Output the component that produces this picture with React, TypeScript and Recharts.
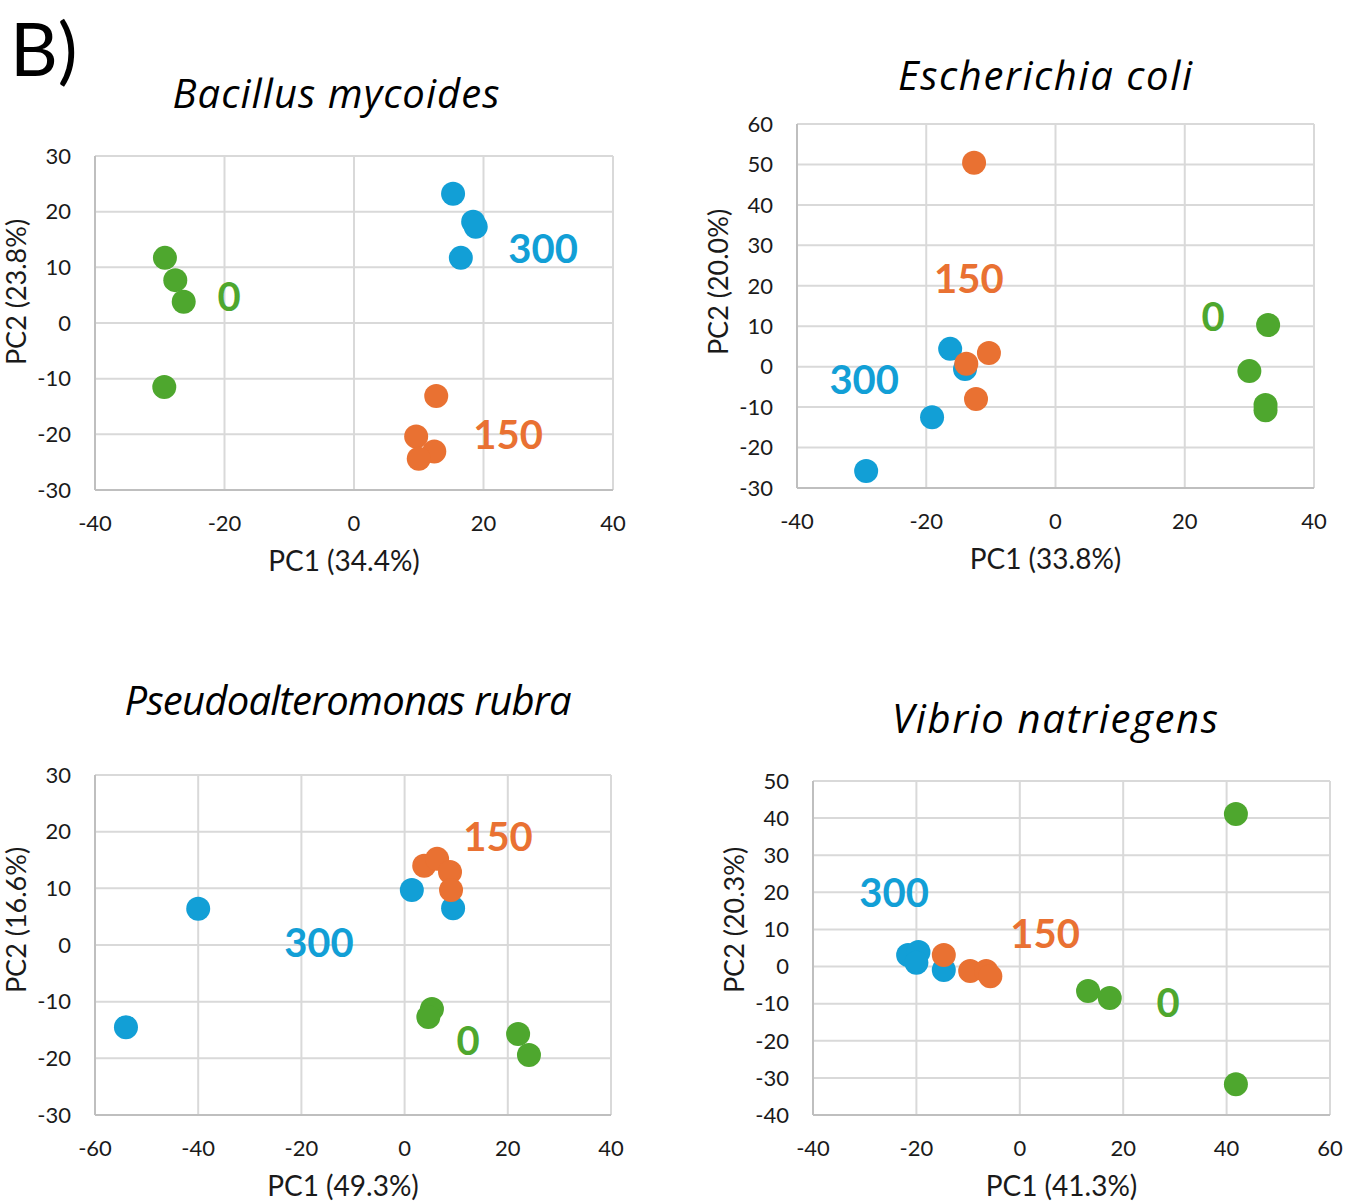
import { CartesianGrid, Scatter, ScatterChart, XAxis, YAxis } from "recharts";

// PCA scores (PC1, PC2) per dose group, one set of arrays per organism
const bacillusDose0 = [
  { pc1: -29.2, pc2: 11.7 },
  { pc1: -27.6, pc2: 7.7 },
  { pc1: -26.3, pc2: 3.8 },
  { pc1: -29.3, pc2: -11.5 },
];
const bacillusDose150 = [
  { pc1: 12.7, pc2: -13.1 },
  { pc1: 9.6, pc2: -20.4 },
  { pc1: 12.4, pc2: -23.1 },
  { pc1: 10.0, pc2: -24.4 },
];
const bacillusDose300 = [
  { pc1: 15.3, pc2: 23.2 },
  { pc1: 18.4, pc2: 18.2 },
  { pc1: 18.8, pc2: 17.3 },
  { pc1: 16.5, pc2: 11.7 },
];
const bacillusTags = [
  { pc1: -19.3, pc2: 4.7, dose: "0" },
  { pc1: 29.2, pc2: 13.3, dose: "300" },
  { pc1: 23.8, pc2: -20.1, dose: "150" },
];

const coliDose0 = [
  { pc1: 32.9, pc2: 10.3 },
  { pc1: 30.0, pc2: -1.1 },
  { pc1: 32.5, pc2: -9.5 },
  { pc1: 32.5, pc2: -10.8 },
];
const coliDose150 = [
  { pc1: -12.6, pc2: 50.4 },
  { pc1: -13.8, pc2: 0.7 },
  { pc1: -10.3, pc2: 3.4 },
  { pc1: -12.3, pc2: -8.0 },
];
const coliDose300 = [
  { pc1: -29.3, pc2: -25.8 },
  { pc1: -19.1, pc2: -12.5 },
  { pc1: -16.3, pc2: 4.4 },
  { pc1: -14.0, pc2: -0.6 },
];
const coliTags = [
  { pc1: -13.4, pc2: 21.7, dose: "150" },
  { pc1: 24.4, pc2: 12.5, dose: "0" },
  { pc1: -29.6, pc2: -3.3, dose: "300" },
];

const rubraDose0 = [
  { pc1: 5.3, pc2: -11.3 },
  { pc1: 4.6, pc2: -12.7 },
  { pc1: 22.0, pc2: -15.7 },
  { pc1: 24.1, pc2: -19.4 },
];
const rubraDose150 = [
  { pc1: 3.8, pc2: 14.0 },
  { pc1: 6.3, pc2: 15.2 },
  { pc1: 8.8, pc2: 12.9 },
  { pc1: 9.0, pc2: 9.7 },
];
const rubraDose300 = [
  { pc1: -54.0, pc2: -14.5 },
  { pc1: -40.0, pc2: 6.4 },
  { pc1: 1.4, pc2: 9.7 },
  { pc1: 9.4, pc2: 6.5 },
];
const rubraTags = [
  { pc1: 18.1, pc2: 19.1, dose: "150" },
  { pc1: -16.6, pc2: 0.4, dose: "300" },
  { pc1: 12.3, pc2: -16.8, dose: "0" },
];

const vibrioDose0 = [
  { pc1: 41.8, pc2: 41.1 },
  { pc1: 41.8, pc2: -31.7 },
  { pc1: 13.2, pc2: -6.6 },
  { pc1: 17.4, pc2: -8.5 },
];
const vibrioDose150 = [
  { pc1: -14.7, pc2: 3.1 },
  { pc1: -9.6, pc2: -1.2 },
  { pc1: -6.5, pc2: -1.2 },
  { pc1: -5.7, pc2: -2.6 },
];
const vibrioDose300 = [
  { pc1: -21.6, pc2: 3.1 },
  { pc1: -19.6, pc2: 3.9 },
  { pc1: -20.0, pc2: 1.0 },
  { pc1: -14.7, pc2: -0.9 },
];
const vibrioTags = [
  { pc1: -24.3, pc2: 19.8, dose: "300" },
  { pc1: 4.9, pc2: 9.0, dose: "150" },
  { pc1: 28.7, pc2: -9.6, dose: "0" },
];

const ticks40to40 = [-40, -20, 0, 20, 40];
const ticks60to40 = [-60, -40, -20, 0, 20, 40];
const ticks40to60 = [-40, -20, 0, 20, 40, 60];
const ticks30to30 = [-30, -20, -10, 0, 10, 20, 30];
const ticks30to60 = [-30, -20, -10, 0, 10, 20, 30, 40, 50, 60];
const ticks40to50 = [-40, -30, -20, -10, 0, 10, 20, 30, 40, 50];

const FONT = "Lato, 'Open Sans', sans-serif";
const TITLE_FONT = "'Open Sans', Lato, sans-serif";
const DOSE_COLORS: Record<string, string> = {
  "0": "#4EA72E",
  "150": "#E97132",
  "300": "#129FD6",
};
const Y_W = 60;
const X_H = 40;

type Pt = { pc1: number; pc2: number };
type Box = { x: number; y: number; w: number; h: number };
type Rect = { left: number; top: number; right: number; bottom: number };

const dot = (color: string) => (p: any) =>
  <circle cx={p.cx} cy={p.cy} r={12} fill={color} />;

const tag = (p: any) => (
  <text
    x={p.cx}
    y={p.cy}
    dy="0.36em"
    textAnchor="middle"
    fontFamily={FONT}
    fontSize={40}
    fontWeight={700}
    fill={DOSE_COLORS[p.payload.dose]}
  >
    {p.payload.dose}
  </text>
);

function Panel(props: {
  region: Box;
  plot: Rect;
  xTicks: number[];
  yTicks: number[];
  xTitle: string;
  yTitle: string;
  yShift: number;
  dose0: Pt[];
  dose150: Pt[];
  dose300: Pt[];
  tags: (Pt & { dose: string })[];
}) {
  const { region, plot, xTicks, yTicks } = props;
  const margin = {
    top: plot.top - region.y,
    left: plot.left - region.x - Y_W,
    right: region.x + region.w - plot.right,
    bottom: region.y + region.h - plot.bottom - X_H,
  };
  const tickStyle = { fontFamily: FONT, fontSize: 22, fill: "#1a1a1a" };

  const xTitle = ({ viewBox }: any) => (
    <text
      x={viewBox.x + viewBox.width / 2 - 10}
      y={viewBox.y + 71}
      dy="0.36em"
      textAnchor="middle"
      fontFamily={FONT}
      fontSize={28}
      fill="#1a1a1a"
    >
      {props.xTitle}
    </text>
  );
  const yTitle = ({ viewBox }: any) => {
    const cx = viewBox.x + viewBox.width - 77;
    const cy = viewBox.y + viewBox.height / 2 + props.yShift;
    return (
      <text
        x={cx}
        y={cy}
        dy="0.3em"
        transform={`rotate(-90, ${cx}, ${cy})`}
        textAnchor="middle"
        fontFamily={FONT}
        fontSize={27}
        fill="#1a1a1a"
      >
        {props.yTitle}
      </text>
    );
  };

  return (
    <div style={{ position: "absolute", left: region.x, top: region.y }}>
      <ScatterChart width={region.w} height={region.h} margin={margin}>
        <CartesianGrid stroke="#d9d9d9" strokeWidth={2} horizontalValues={yTicks} verticalValues={xTicks} />
        <XAxis
          type="number"
          dataKey="pc1"
          domain={[xTicks[0], xTicks[xTicks.length - 1]]}
          ticks={xTicks}
          height={X_H}
          tickSize={0}
          tickMargin={25}
          tickLine={false}
          axisLine={{ stroke: "#bfbfbf", strokeWidth: 2 }}
          tick={tickStyle}
          label={{ content: xTitle }}
        />
        <YAxis
          type="number"
          dataKey="pc2"
          domain={[yTicks[0], yTicks[yTicks.length - 1]]}
          ticks={yTicks}
          width={Y_W}
          tickSize={0}
          tickMargin={24}
          tickLine={false}
          axisLine={{ stroke: "#bfbfbf", strokeWidth: 2 }}
          tick={tickStyle}
          label={{ content: yTitle }}
        />
        <Scatter data={props.dose0} shape={dot(DOSE_COLORS["0"])} isAnimationActive={false} />
        <Scatter data={props.dose300} shape={dot(DOSE_COLORS["300"])} isAnimationActive={false} />
        <Scatter data={props.dose150} shape={dot(DOSE_COLORS["150"])} isAnimationActive={false} />
        <Scatter data={props.tags} shape={tag} isAnimationActive={false} />
      </ScatterChart>
    </div>
  );
}

const titleStyle = { fontFamily: TITLE_FONT, fontSize: 40, fontStyle: "italic", fill: "#000" };

// species headings, stretched to the width of each panel's heading
function Heading(props: { cx: number; y: number; width: number; children: string }) {
  return (
    <text
      x={props.cx - props.width / 2}
      y={props.y}
      textLength={props.width}
      lengthAdjust="spacing"
      style={titleStyle}
    >
      {props.children}
    </text>
  );
}

export default function App() {
  return (
    <div style={{ position: "absolute", left: 0, top: 0, width: 1347, height: 1202, background: "#fff" }}>
      <svg width={1347} height={1202} style={{ position: "absolute", left: 0, top: 0 }}>
        <text x={10} y={76} fontFamily={FONT} fontSize={74} fill="#000">B)</text>
        <Heading cx={336} y={108} width={327}>Bacillus mycoides</Heading>
        <Heading cx={1045} y={90} width={294}>Escherichia coli</Heading>
        <Heading cx={348} y={715} width={447}>Pseudoalteromonas rubra</Heading>
        <Heading cx={1055} y={733} width={326}>Vibrio natriegens</Heading>
      </svg>
      <Panel
        region={{ x: 0, y: 0, w: 673, h: 600 }}
        plot={{ left: 95, top: 156, right: 613, bottom: 490 }}
        xTicks={ticks40to40}
        yTicks={ticks30to30}
        xTitle="PC1 (34.4%)"
        yTitle="PC2 (23.8%)"
        yShift={-31}
        dose0={bacillusDose0}
        dose150={bacillusDose150}
        dose300={bacillusDose300}
        tags={bacillusTags}
      />
      <Panel
        region={{ x: 673, y: 0, w: 674, h: 600 }}
        plot={{ left: 797, top: 124, right: 1314, bottom: 488 }}
        xTicks={ticks40to40}
        yTicks={ticks30to60}
        xTitle="PC1 (33.8%)"
        yTitle="PC2 (20.0%)"
        yShift={-24}
        dose0={coliDose0}
        dose150={coliDose150}
        dose300={coliDose300}
        tags={coliTags}
      />
      <Panel
        region={{ x: 0, y: 600, w: 673, h: 602 }}
        plot={{ left: 95, top: 775, right: 611, bottom: 1115 }}
        xTicks={ticks60to40}
        yTicks={ticks30to30}
        xTitle="PC1 (49.3%)"
        yTitle="PC2 (16.6%)"
        yShift={-25}
        dose0={rubraDose0}
        dose150={rubraDose150}
        dose300={rubraDose300}
        tags={rubraTags}
      />
      <Panel
        region={{ x: 673, y: 600, w: 674, h: 602 }}
        plot={{ left: 813, top: 781, right: 1330, bottom: 1115 }}
        xTicks={ticks40to60}
        yTicks={ticks40to50}
        xTitle="PC1 (41.3%)"
        yTitle="PC2 (20.3%)"
        yShift={-28}
        dose0={vibrioDose0}
        dose150={vibrioDose150}
        dose300={vibrioDose300}
        tags={vibrioTags}
      />
    </div>
  );
}
